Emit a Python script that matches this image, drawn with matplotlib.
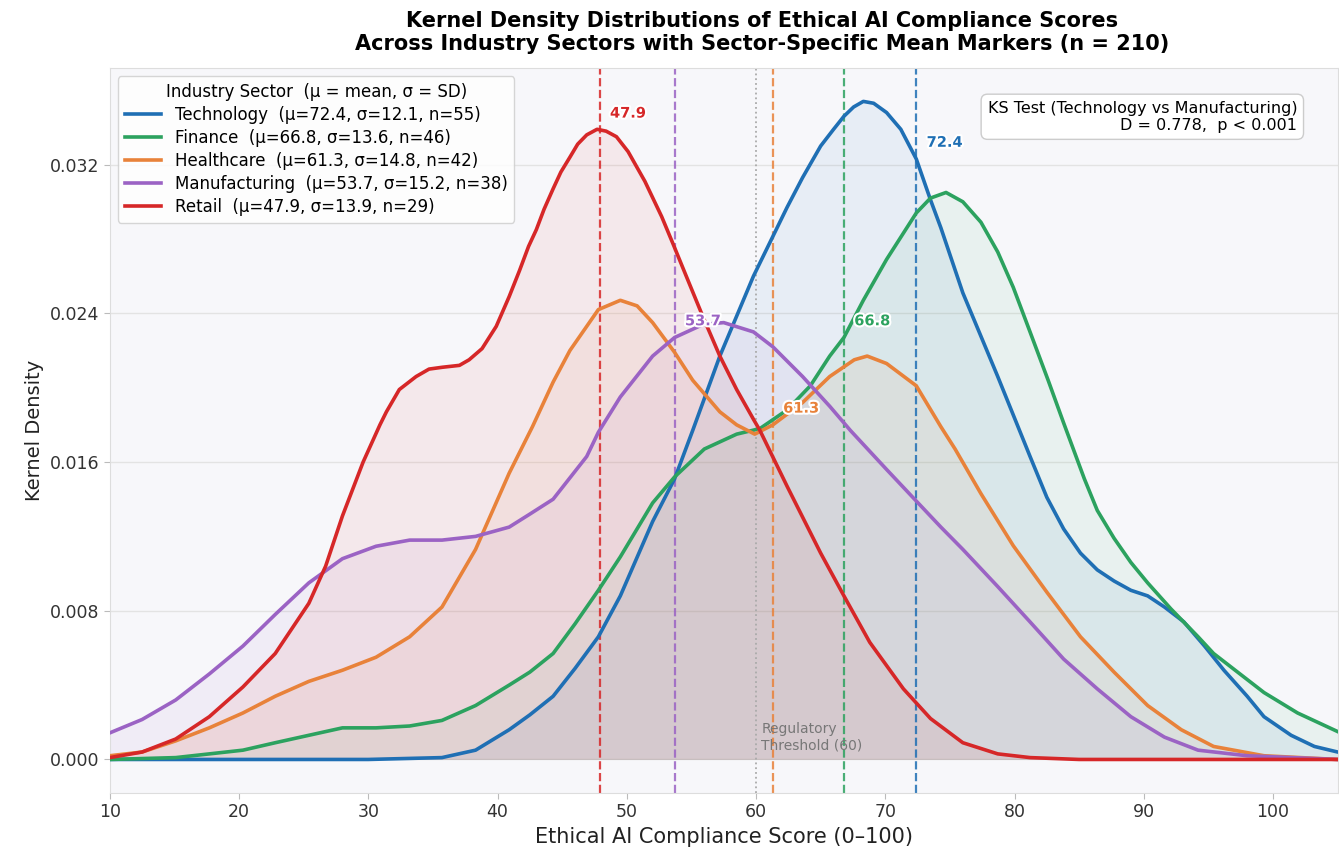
import numpy as np
import matplotlib
matplotlib.use("Agg")
import matplotlib.pyplot as plt
import matplotlib.patheffects as pe

# sectors, summary stats and colours
sectors = ["Technology", "Finance", "Healthcare", "Manufacturing", "Retail"]
means = [72.4, 66.8, 61.3, 53.7, 47.9]
sds = [12.1, 13.6, 14.8, 15.2, 13.9]
counts = [55, 46, 42, 38, 29]
colors = ["#1f6fb4", "#2ca25f", "#e8823a", "#9b63c4", "#d62728"]

# KDE curves
tech_x = [10, 30, 35.7, 38.3, 40.9, 42.5, 44.3, 46.0, 47.8, 49.5, 52.0, 53.7, 55.1, 57.2, 59.8, 62.4, 63.6, 65.0,
          66.0, 66.8, 67.55, 68.3, 69.1, 70.1, 71.2, 72.4, 73.5, 74.3, 76.0, 78.7, 81.2, 82.5, 83.8, 85.1, 86.4,
          87.7, 89.0, 90.3, 91.6, 93.1, 94.7, 96.2, 98.0, 99.3, 101.4, 103.2, 105]
tech_y = [0, 0, 0.0001, 0.0005, 0.0016, 0.0024, 0.0034, 0.0049, 0.0066, 0.0088, 0.0128, 0.0151, 0.0177, 0.0217,
          0.0260, 0.0297, 0.0313, 0.0330, 0.0339, 0.0346, 0.0351, 0.0354, 0.0353, 0.0348, 0.0339, 0.0323, 0.0301,
          0.0286, 0.0251, 0.0206, 0.0163, 0.0141, 0.0124, 0.0111, 0.0102, 0.0096, 0.0091, 0.0088, 0.0082, 0.0074,
          0.0061, 0.0048, 0.0034, 0.0023, 0.0013, 0.0007, 0.0004]

fin_x = [10, 15.1, 17.7, 20.3, 22.8, 25.4, 28.0, 30.6, 33.2, 35.7, 38.3, 40.9, 42.5, 44.3, 46.0, 47.8, 49.5, 52.0,
         53.7, 56.0, 58.5, 60.3, 62.4, 64.2, 65.7, 66.8, 68.3, 70.1, 72.4, 73.5, 74.7, 76.0, 77.4, 78.7, 79.9, 81.2,
         82.6, 83.8, 84.6, 85.4, 86.4, 87.7, 89.0, 90.3, 92.1, 94.2, 95.4, 99.3, 101.9, 105]
fin_y = [0.0000, 0.0001, 0.0003, 0.0005, 0.0009, 0.0013, 0.0017, 0.0017, 0.0018, 0.0021, 0.0029, 0.0040, 0.0047,
         0.0057, 0.0073, 0.0091, 0.0109, 0.0138, 0.0152, 0.0167, 0.0175, 0.0178, 0.0188, 0.0201, 0.0217, 0.0227,
         0.0247, 0.0269, 0.0294, 0.0302, 0.0305, 0.0300, 0.0289, 0.0273, 0.0254, 0.0230, 0.0204, 0.0181, 0.0166,
         0.0151, 0.0134, 0.0119, 0.0106, 0.0095, 0.0081, 0.0066, 0.0057, 0.0036, 0.0025, 0.0015]

health_x = [10, 12.5, 15.1, 17.7, 20.3, 22.8, 25.4, 28.0, 30.6, 33.2, 35.7, 38.3, 40.9, 42.7, 44.3, 45.6, 47.8,
            49.5, 50.8, 52.0, 53.7, 55.1, 57.2, 58.5, 59.9, 61.3, 63.6, 65.7, 67.6, 68.6, 70.1, 72.4, 74.3, 75.4,
            77.4, 79.9, 82.5, 85.1, 87.7, 90.3, 92.9, 95.4, 99.3, 105]
health_y = [0.0002, 0.0004, 0.0010, 0.0017, 0.0025, 0.0034, 0.0042, 0.0048, 0.0055, 0.0066, 0.0082, 0.0113, 0.0154,
            0.0179, 0.0203, 0.0220, 0.0242, 0.0247, 0.0244, 0.0235, 0.0219, 0.0204, 0.0187, 0.0180, 0.0175, 0.0180,
            0.0192, 0.0206, 0.0215, 0.0217, 0.0213, 0.0201, 0.0179, 0.0167, 0.0143, 0.0115, 0.0090, 0.0066, 0.0047,
            0.0029, 0.0016, 0.0007, 0.0002, 0.0000]

manuf_x = [10, 12.5, 15.1, 17.7, 20.3, 22.8, 25.4, 28.0, 30.6, 33.2, 35.7, 38.3, 40.9, 42.5, 44.3, 46.9, 47.8, 49.5,
           52.0, 53.7, 55.9, 57.5, 59.8, 61.3, 63.6, 65.7, 67.3, 70.1, 72.4, 74.3, 76.0, 78.7, 81.2, 83.8, 86.4,
           89.0, 91.6, 94.2, 98.0, 105]
manuf_y = [0.00143, 0.00215, 0.0032, 0.0046, 0.0061, 0.0078, 0.0095, 0.0108, 0.01147, 0.0118, 0.0118, 0.0120,
           0.0125, 0.0132, 0.0140, 0.0163, 0.0176, 0.0195, 0.0217, 0.0227, 0.0234, 0.0235, 0.0230, 0.0222, 0.0206,
           0.0190, 0.0177, 0.0156, 0.0139, 0.0125, 0.0113, 0.0093, 0.0074, 0.0054, 0.0038, 0.0023, 0.0012, 0.0005,
           0.0002, 0.0000]

retail_x = [10, 12.5, 15.1, 17.7, 20.3, 22.8, 25.4, 26.7, 28.0, 29.6, 30.9, 31.4, 32.4, 33.7, 34.7, 35.75, 37.05,
            37.8, 38.8, 39.9, 40.9, 41.7, 42.4, 43.0, 43.6, 44.3, 44.9, 45.6, 46.2, 46.9, 47.7, 48.4, 49.2, 50.1,
            51.4, 52.7, 53.6, 54.6, 55.9, 57.2, 58.5, 59.8, 60.3, 62.4, 65.0, 66.8, 68.8, 71.4, 73.5, 76.0, 78.7,
            81.2, 85, 105]
retail_y = [0.0001, 0.0004, 0.0011, 0.0023, 0.0039, 0.0057, 0.0084, 0.0104, 0.0131, 0.0160, 0.0180, 0.0187, 0.0199,
            0.0206, 0.0210, 0.0211, 0.0212, 0.0215, 0.0221, 0.0233, 0.0249, 0.0263, 0.0276, 0.0285, 0.0296, 0.0307,
            0.0316, 0.0324, 0.0331, 0.0336, 0.0339, 0.0338, 0.0335, 0.0327, 0.0311, 0.0292, 0.0277, 0.0260, 0.0238,
            0.0217, 0.0199, 0.0183, 0.0177, 0.0147, 0.0111, 0.0088, 0.0063, 0.0038, 0.0022, 0.0009, 0.0003, 0.0001,
            0.0000, 0.0000]

curves_x = [tech_x, fin_x, health_x, manuf_x, retail_x]
curves_y = [tech_y, fin_y, health_y, manuf_y, retail_y]

threshold = 60
ks_d = 0.778

fig = plt.figure(figsize=(13.39, 8.6), dpi=100)
ax = fig.add_axes([0.082, 0.078, 0.917, 0.843])
ax.set_facecolor("#f7f7fa")

handles = []
for name, m, s, n, c, xs, ys in zip(sectors, means, sds, counts, colors, curves_x, curves_y):
    ax.fill_between(xs, 0, ys, color=c, alpha=0.07, linewidth=0)
    h, = ax.plot(xs, ys, color=c, lw=2.6, label=f"{name}  (μ={m}, σ={s}, n={n})", zorder=3,
                 solid_joinstyle="round")
    handles.append(h)
    ax.axvline(m, color=c, ls="--", lw=1.6, alpha=0.85, zorder=2)

ax.axvline(threshold, color="#aaaaaa", ls=":", lw=1.3, zorder=1)
ax.text(threshold + 0.4, 0.0004, "Regulatory\nThreshold (60)", fontsize=10, color="#777777",
        ha="left", va="bottom")

# mean value labels
for m, c, xs, ys in zip(means, colors, curves_x, curves_y):
    yv = np.interp(m, xs, ys)
    ax.text(m + 0.8, yv + 0.0009, f"{m}", color=c, fontsize=10.5, fontweight="bold",
            ha="left", va="center", zorder=5,
            path_effects=[pe.withStroke(linewidth=3, foreground="white")])

ax.set_xlim(10, 105)
ax.set_ylim(-0.0018, 0.0372)
ax.set_xticks(np.arange(10, 101, 10))
ax.set_yticks(np.arange(0, 0.033, 0.008))
ax.yaxis.set_major_formatter(matplotlib.ticker.FormatStrFormatter("%.3f"))
ax.tick_params(labelsize=12.5, colors="#333333", length=4, color="#bbbbbb")
ax.grid(axis="y", color="#e3e3e3", lw=1)
ax.grid(axis="x", visible=False)
ax.set_axisbelow(True)
for sp in ax.spines.values():
    sp.set_color("#dddddd")

ax.set_xlabel("Ethical AI Compliance Score (0–100)", fontsize=15, color="#222222")
ax.set_ylabel("Kernel Density", fontsize=14, color="#222222")
ax.set_title("Kernel Density Distributions of Ethical AI Compliance Scores\n"
             "Across Industry Sectors with Sector-Specific Mean Markers (n = 210)",
             fontsize=15, fontweight="bold", pad=13, x=0.531)

leg = ax.legend(handles=handles, loc="upper left", fontsize=12, frameon=True,
                title="Industry Sector  (μ = mean, σ = SD)", title_fontsize=12,
                borderaxespad=0.5, handlelength=2.2, labelspacing=0.3)
leg.get_frame().set_edgecolor("#cccccc")
leg.get_frame().set_facecolor("white")

ax.text(0.967, 0.955, f"KS Test (Technology vs Manufacturing)\nD = {ks_d},  p < 0.001",
        transform=ax.transAxes, ha="right", va="top", fontsize=11.5,
        bbox=dict(boxstyle="round,pad=0.4", facecolor="white", edgecolor="#cccccc"))

fig.savefig("out.png", dpi=100)
